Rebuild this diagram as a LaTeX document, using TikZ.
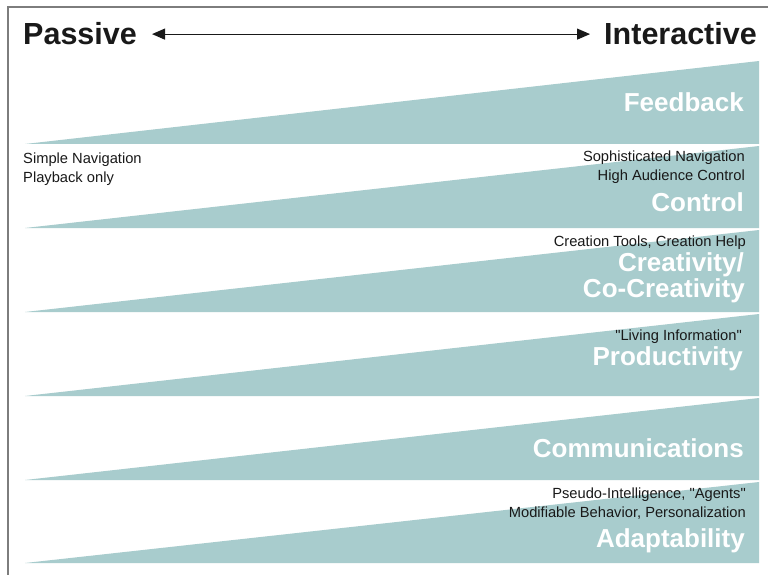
\documentclass[tikz,border=0pt]{standalone}
\usepackage{fontspec}
\setmainfont{Liberation Sans}
\usetikzlibrary{arrows.meta}
\definecolor{wedgeteal}{RGB}{168,204,205}
\definecolor{framegray}{RGB}{125,125,125}
\definecolor{inkdark}{RGB}{25,25,25}
\begin{document}
\begin{tikzpicture}[x=1pt,y=-1pt,
  wedge/.style={fill=wedgeteal},
  heading/.style={font=\fontsize{30.5}{32}\selectfont\bfseries, text=inkdark, inner sep=0pt},
  title/.style={font=\fontsize{26}{28}\selectfont\bfseries, text=white, inner sep=0pt, anchor=base east},
  note/.style={font=\fontsize{14.7}{16}\selectfont, text=inkdark, inner sep=0pt, anchor=base east},
  axis/.style={draw=inkdark, line width=1.1pt,
    arrows={Triangle[length=13pt,width=11pt]-Triangle[length=13pt,width=11pt]}}]
\useasboundingbox (0,0) rectangle (768,575);
\fill[white] (0,0) rectangle (768,575);
% frame on the top and left sides
\draw[framegray, line width=2pt] (8,575) -- (8,7) -- (768,7);

% one wedge per level, widening from left to right
\foreach \b/\t in {144/61, 228/146, 312/230, 396/314, 480/398, 563/482}
  \fill[wedge] (25,\b) -- (759,\t) -- (759,\b) -- cycle;

% scale heading
\node[heading, anchor=base west] (passive) at (23,45) {Passive};
\node[heading, anchor=base east] (interactive) at (757,45) {Interactive};
\draw[axis, shorten <=15pt, shorten >=14pt] (passive.east) -- (interactive.west);

% left-hand note
\node[note, anchor=base west] (simplenav) at (23,163) {Simple Navigation};
\node[note, anchor=base west] (playback) at (23,182) {Playback only};

% level titles and their notes
\node[title] (feedback) at (744,112) {Feedback};

\node[note] (sophnav) at (745,161) {Sophisticated Navigation};
\node[note] (audctl) at (745,180) {High Audience Control};
\node[title] (control) at (744,211) {Control};

\node[note] (tools) at (746,246) {Creation Tools, Creation Help};
\node[title] (creativity) at (744,271) {Creativity/};
\node[title] (cocreativity) at (745,297) {Co-Creativity};

\node[note] (living) at (742,340) {\textquotedbl Living Information\textquotedbl};
\node[title] (productivity) at (743,365) {Productivity};

\node[title] (communications) at (744,457) {Communications};

\node[note] (pseudo) at (746,498) {Pseudo-Intelligence, \textquotedbl Agents\textquotedbl};
\node[note] (modifiable) at (746,517) {Modifiable Behavior, Personalization};
\node[title] (adaptability) at (745,547) {Adaptability};
\end{tikzpicture}
\end{document}
